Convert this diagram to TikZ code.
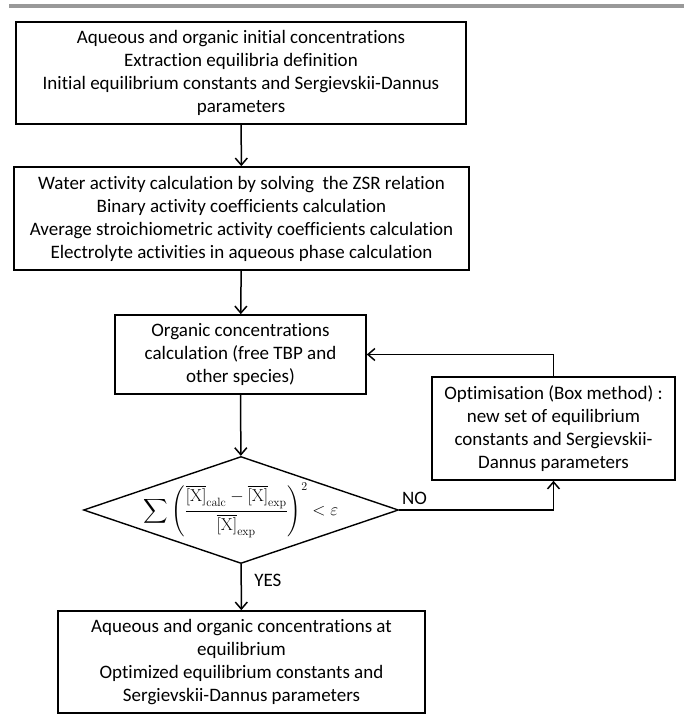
\documentclass[tikz,border=0pt]{standalone}
\usepackage{amsmath,amssymb}
\usepackage[no-math]{fontspec}
\setmainfont{Carlito}[Ligatures=NoCommon]
\usetikzlibrary{shapes.geometric,arrows.meta}

\begin{document}
\begin{tikzpicture}[x=1pt,y=-1pt,
    box/.style={draw,line width=1.6pt,align=center,inner sep=0pt,
      font=\fontsize{19}{23}\selectfont},
    flow/.style={line width=1.5pt,-{Straight Barb[length=7pt,width=12pt]}},
    lbl/.style={font=\fontsize{19}{23}\selectfont}]
    \useasboundingbox (0,0) rectangle (684,715);
    \fill[black!40] (9,4) rectangle (684,8);
    \node[box,minimum width=450,minimum height=102] (init) at (241,73)
      {Aqueous and organic initial concentrations\\
       Extraction equilibria definition\\
       Initial equilibrium constants and Sergievskii-Dannus\\
       parameters};
    \node[box,minimum width=455,minimum height=103] (activ) at (241.5,218.5)
      {Water activity calculation by solving~ the ZSR relation\\
       Binary activity coefficients calculation\\
       Average stroichiometric activity coefficients calculation\\
       Electrolyte activities in aqueous phase calculation};
    \node[box,minimum width=251,minimum height=79] (orgconc) at (240.5,354.5)
      {Organic concentrations\\
       calculation (free TBP and\\
       other species)};
    \node[box,minimum width=243,minimum height=103] (optim) at (553.5,428.5)
      {Optimisation (Box method) :\\
       new set of equilibrium\\
       constants and Sergievskii-\\
       Dannus parameters};
    \node[draw,line width=1.4pt,diamond,aspect=2.94,inner sep=-6pt,
      minimum width=315,minimum height=107,font=\fontsize{17}{20}\selectfont]
      (test) at (241,510)
      {$\displaystyle\sum\left(\frac{\overline{[\mathrm{X}]}_{\mathrm{calc}}
        -\overline{[\mathrm{X}]}_{\mathrm{exp}}}{\overline{[\mathrm{X}]}_{\mathrm{exp}}}\right)^{2}
        <\varepsilon$};
    \node[box,minimum width=367,minimum height=102] (result) at (241.5,662)
      {Aqueous and organic concentrations at\\
       equilibrium\\
       Optimized equilibrium constants and\\
       Sergievskii-Dannus parameters};
    \draw[flow] (init) -- (activ);
    \draw[flow] (activ) -- (orgconc);
    \draw[flow] (orgconc) -- (test);
    \draw[flow] (test) -- node[lbl,right=9pt,pos=0.35] (yes) {YES} (result);
    \draw[flow] (test.east) -- node[lbl,above=1pt,pos=0.1] (no) {NO}
      (test.east -| optim.south) -- (optim.south);
    \draw[flow] (optim.north) |- (orgconc.east);
\end{tikzpicture}
\end{document}
